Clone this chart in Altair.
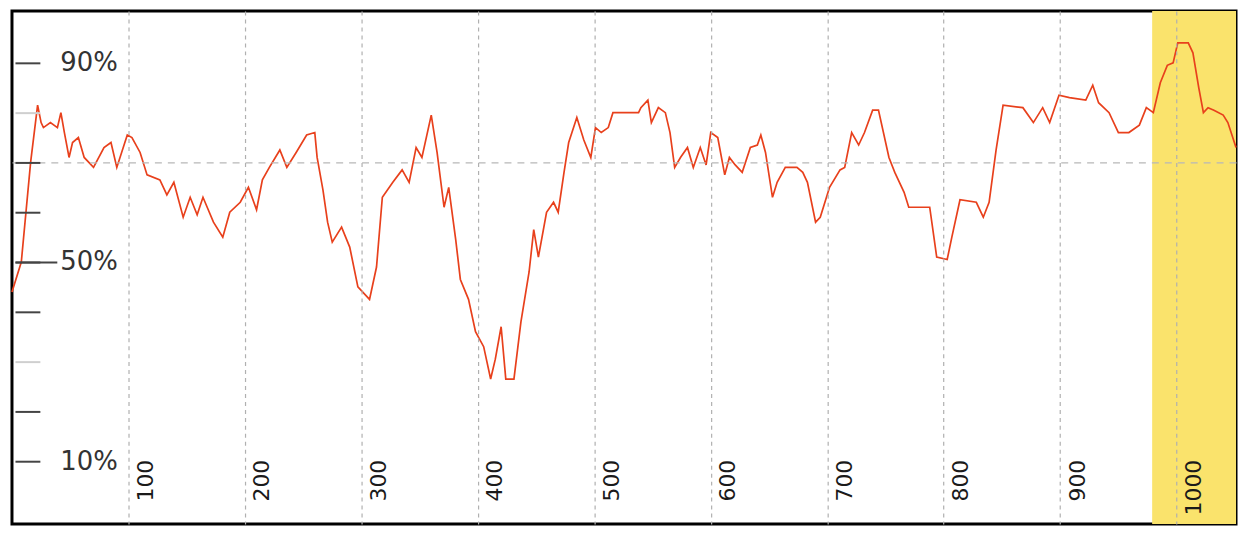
import altair as alt
import pandas as pd

# Series values (x = step index, y = percent)
xs = [0, 8, 16, 22, 25, 27, 33, 39, 42, 45, 49, 52, 57, 62, 70, 79, 85, 90, 99, 103,
      110, 116, 127, 133, 139, 147, 153, 159, 164, 173, 181, 187, 196, 203, 210, 215, 221, 230, 236, 244,
      253, 260, 262, 267, 271, 275, 283, 290, 297, 307, 313, 318, 327, 335, 341, 347, 352, 360, 365, 371,
      375, 381, 385, 392, 398, 405, 411, 415, 420, 424, 431, 437, 444, 448, 452, 459, 465, 469, 474, 478,
      485, 491, 497, 501, 506, 512, 516, 538, 540, 546, 549, 555, 561, 565, 569, 574, 580, 585, 591, 596,
      600, 606, 612, 616, 621, 627, 634, 640, 643, 647, 653, 657, 664, 674, 679, 683, 690, 694, 702, 711,
      715, 721, 727, 732, 739, 744, 753, 758, 766, 770, 788, 794, 803, 807, 814, 828, 834, 839, 845, 851,
      868, 877, 885, 891, 899, 908, 922, 928, 933, 942, 950, 959, 968, 974, 980, 986, 992, 997, 1001, 1010,
      1014, 1019, 1023, 1027, 1032, 1040, 1044, 1051]
ys = [44, 50, 70, 81.5, 78, 77, 78, 77, 80, 76, 71, 74, 75, 71, 69, 73, 74, 69, 75.5, 75,
      72, 67.5, 66.5, 63.5, 66, 59, 63, 59.5, 63, 58, 55, 60, 62, 65, 60.5, 66.5, 69, 72.5, 69, 72,
      75.5, 76, 71, 64.5, 58, 54, 57, 53, 45, 42.5, 49, 63, 66, 68.5, 66, 73, 71, 79.5, 72, 61,
      65, 54.5, 46.5, 42.5, 36, 33, 26.5, 30.5, 37, 26.5, 26.5, 38, 48, 56.5, 51, 60, 62, 60, 68, 74,
      79, 74.5, 71, 77, 76, 77, 80, 80, 81, 82.5, 78, 81, 80, 76, 69, 71, 73, 69, 73, 69.5,
      76, 75, 67.5, 71, 69.5, 68, 73, 73.5, 75.5, 72, 63, 66, 69, 69, 68, 66, 58, 59, 65, 68.5,
      69, 76, 73.5, 76, 80.5, 80.5, 71, 68, 64, 61, 61, 51, 50.5, 55, 62.5, 62, 59, 62, 72.5, 81.5,
      81, 78, 81, 78, 83.5, 83, 82.5, 85.5, 82, 80, 76, 76, 77.5, 81, 80, 86, 89.5, 90, 94, 94,
      92, 85, 80, 81, 80.5, 79.5, 78, 73]

x_ticks = [100, 200, 300, 400, 500, 600, 700, 800, 900, 1000]
y_ticks = [10, 20, 30, 40, 50, 60, 70, 80, 90]
y_labelled = [10, 50, 90]
band_start = [979]
band_end = [1051]
x_domain = [0, 1051]
y_domain = [-2.6, 100.4]

df = pd.DataFrame({"step": xs, "pct": ys})
band = pd.DataFrame({"start": band_start, "end": band_end})
mid = pd.DataFrame({"v": [50]})

FONT = "DejaVu Sans"
xscale = alt.Scale(domain=x_domain, nice=False, zero=False)
yscale = alt.Scale(domain=y_domain, nice=False, zero=False)

x_axis = alt.Axis(values=x_ticks, title=None, format="d", grid=True, gridDash=[4, 4],
                  gridColor="#b0b0b0", gridWidth=1.2, ticks=False, tickSize=0,
                  domain=False, labelAngle=270, labelPadding=-65, labelOffset=17,
                  labelFontSize=22, labelFont=FONT, labelColor="#1a1a1a",
                  labelFlush=False, labelOverlap=False, zindex=1)

rect = alt.Chart(band).mark_rect(color="#FAE36C").encode(
    x=alt.X("start:Q", scale=xscale, axis=x_axis),
    x2="end:Q",
)

label_expr = "indexof([" + ",".join(str(v) for v in y_labelled) + "], datum.value) >= 0 ? datum.value + '%' : ''"

line = alt.Chart(df).mark_line(color="#E8401C", strokeWidth=1.7).encode(
    x=alt.X("step:Q", scale=xscale, axis=x_axis),
    y=alt.Y("pct:Q", scale=yscale,
            axis=alt.Axis(values=y_ticks, title=None, orient="left", offset=-28,
                          grid=True, gridDash=[7, 6], gridColor="#b8b8b8", gridWidth=1.2,
                          gridOpacity={"condition": {"test": "datum.value === 70", "value": 1}, "value": 0},
                          ticks=True, tickSize=25, tickWidth=2,
                          tickColor={"condition": {"test": "datum.value === 80 || datum.value === 30", "value": "#cfcfcf"}, "value": "#444444"},
                          domain=False, labelExpr=label_expr, labelAlign="left",
                          labelPadding=-45, labelFontSize=26, labelFont=FONT,
                          labelColor="#333333", labelFlush=False, labelOverlap=False,
                          zindex=1)),
)

tick50 = alt.Chart(mid).mark_point(opacity=0).encode(
    y=alt.Y("v:Q", scale=yscale,
            axis=alt.Axis(values=[50], title=None, orient="left", offset=-45,
                          grid=False, ticks=True, tickSize=42, tickWidth=2,
                          tickColor="#444444", labels=False, domain=False, zindex=1)),
)

chart = alt.layer(rect, line, tick50).resolve_axis(y="independent").properties(
    width=1229,
    height=515,
    background="white",
    autosize=alt.AutoSizeParams(type="none"),
    padding={"left": 4, "top": 2, "right": 3, "bottom": 3},
).configure_view(stroke="black", strokeWidth=3)

chart.save("out.html", embed_options={"renderer": "svg", "actions": False})
